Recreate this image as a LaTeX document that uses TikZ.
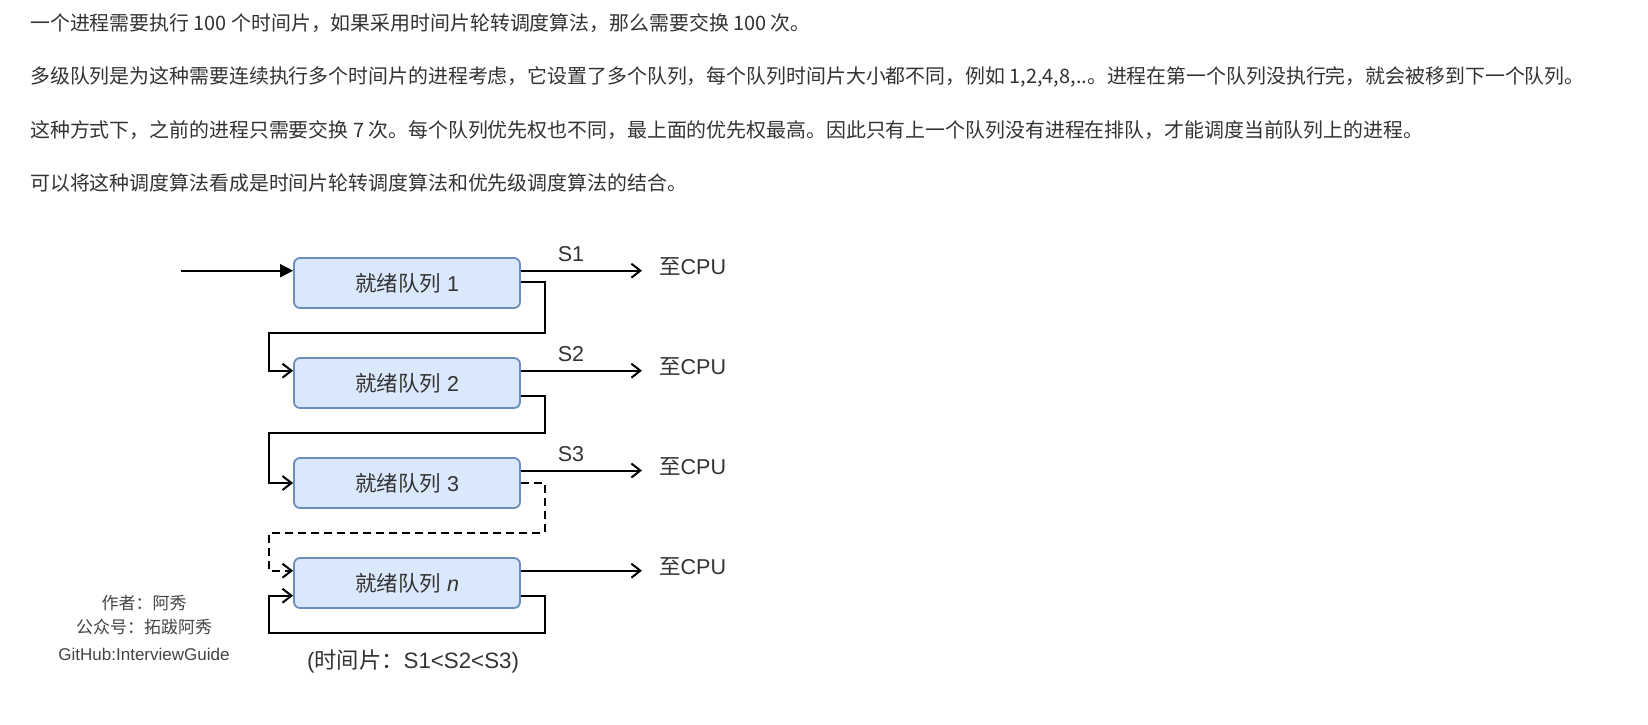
\documentclass[tikz,border=0pt]{standalone}
\usepackage{fontspec}
\setmainfont{Liberation Sans}
\newfontfamily\cjk{Noto Sans CJK SC}
\usetikzlibrary{arrows.meta,calc}
\definecolor{txt}{HTML}{333333}
\definecolor{boxfill}{HTML}{DAE8FC}
\definecolor{boxline}{HTML}{6C8EBF}
\definecolor{markgray}{HTML}{444444}
\begin{document}
\begin{tikzpicture}[x=1pt,y=-1pt,
  bodytext/.style={anchor=west, inner sep=0pt, text=txt, font=\cjk\fontsize{19.9}{24}\selectfont},
  queue/.style={draw=boxline, fill=boxfill, line width=1.8pt, rounded corners=6pt,
    minimum width=226pt, minimum height=50pt, inner sep=0pt, text=txt,
    font=\fontsize{21.5}{24}\selectfont},
  cpu/.style={anchor=west, inner xsep=17pt, inner ysep=0pt, text height=14pt, text depth=6pt,
    text=txt, font=\fontsize{21.5}{24}\selectfont},
  slabel/.style={inner sep=0pt, text=txt, font=\fontsize{21.5}{24}\selectfont},
  caplabel/.style={inner sep=0pt, text=txt, font=\fontsize{22.3}{26}\selectfont},
  wmark/.style={inner sep=0pt, text=markgray, font=\fontsize{17}{20}\selectfont},
  conn/.style={line width=2pt, draw=black, -{Straight Barb[length=9pt,width=14pt]}},
  inconn/.style={line width=2pt, draw=black, -{Triangle[length=13pt,width=13pt]}},
  dashconn/.style={conn, dash pattern=on 8pt off 5pt}
]
\fill[white] (0,0) rectangle (1648,724);
\useasboundingbox (0,0) rectangle (1648,724);

% paragraph text
\node[bodytext] (t1) at (30,23.3) {一个进程需要执行 100 个时间片，如果采用时间片轮转调度算法，那么需要交换 100 次。};
\node[bodytext] (t2) at (30,76.5) {多级队列是为这种需要连续执行多个时间片的进程考虑，它设置了多个队列，每个队列时间片大小都不同，例如 1,2,4,8,..。进程在第一个队列没执行完，就会被移到下一个队列。};
\node[bodytext] (t3) at (30,129.7) {这种方式下，之前的进程只需要交换 7 次。每个队列优先权也不同，最上面的优先权最高。因此只有上一个队列没有进程在排队，才能调度当前队列上的进程。};
\node[bodytext] (t4) at (30,183) {可以将这种调度算法看成是时间片轮转调度算法和优先级调度算法的结合。};

% queues
\node[queue] (q1) at (407,283) {{\cjk 就绪队列} 1};
\node[queue] (q2) at (407,383) {{\cjk 就绪队列} 2};
\node[queue] (q3) at (407,483) {{\cjk 就绪队列} 3};
\node[queue] (qn) at (407,583) {{\cjk 就绪队列} \textit{n}};

% CPU targets
\node[cpu] (c1) at (642,270.7) {{\cjk 至}CPU};
\node[cpu] (c2) at (642,370.7) {{\cjk 至}CPU};
\node[cpu] (c3) at (642,470.5) {{\cjk 至}CPU};
\node[cpu] (cn) at (642,570.7) {{\cjk 至}CPU};

% time-slice labels
\node[slabel] (s1) at (571,254) {S1};
\node[slabel] (s2) at (571,354) {S2};
\node[slabel] (s3) at (571,454) {S3};

% loop corner points
\coordinate (start) at (181,270.7);
\coordinate (r1) at (544.5,332.7);
\coordinate (l1) at (269,332.7);
\coordinate (r2) at (544.5,432.5);
\coordinate (l2) at (269,432.5);
\coordinate (r3) at (544.5,533.3);
\coordinate (l3) at (269,533.3);
\coordinate (r4) at (544.5,633.3);
\coordinate (l4) at (269,633.3);

% input
\draw[inconn] (start) -- (q1.west |- start);

% to CPU
\draw[conn] (q1.east |- c1.west) -- (c1.west);
\draw[conn] (q2.east |- c2.west) -- (c2.west);
\draw[conn] (q3.east |- c3.west) -- (c3.west);
\draw[conn] (qn.east |- cn.west) -- (cn.west);

% demotion loops
\draw[conn] ($(q1.east)+(0,-1.3)$) -| (r1) -- (l1) |- (q2.west |- c2.west);
\draw[conn] ($(q2.east)+(0,12.7)$) -| (r2) -- (l2) |- (q3.west);
\draw[dashconn] (q3.east) -| (r3) -- (l3) |- (qn.west |- cn.west);
\draw[conn] ($(qn.east)+(0,13.2)$) -| (r4) -- (l4) |- ($(qn.west)+(0,12.7)$);

% caption
\node[caplabel] (cap) at (413,661.7) {({\cjk 时间片：}S1<S2<S3)};

% watermark
\node[wmark] (w1) at (144,603) {\cjk 作者：阿秀};
\node[wmark] (w2) at (144,627) {\cjk 公众号：拓跋阿秀};
\node[wmark] (w3) at (144,654.6) {GitHub:InterviewGuide};
\end{tikzpicture}
\end{document}
